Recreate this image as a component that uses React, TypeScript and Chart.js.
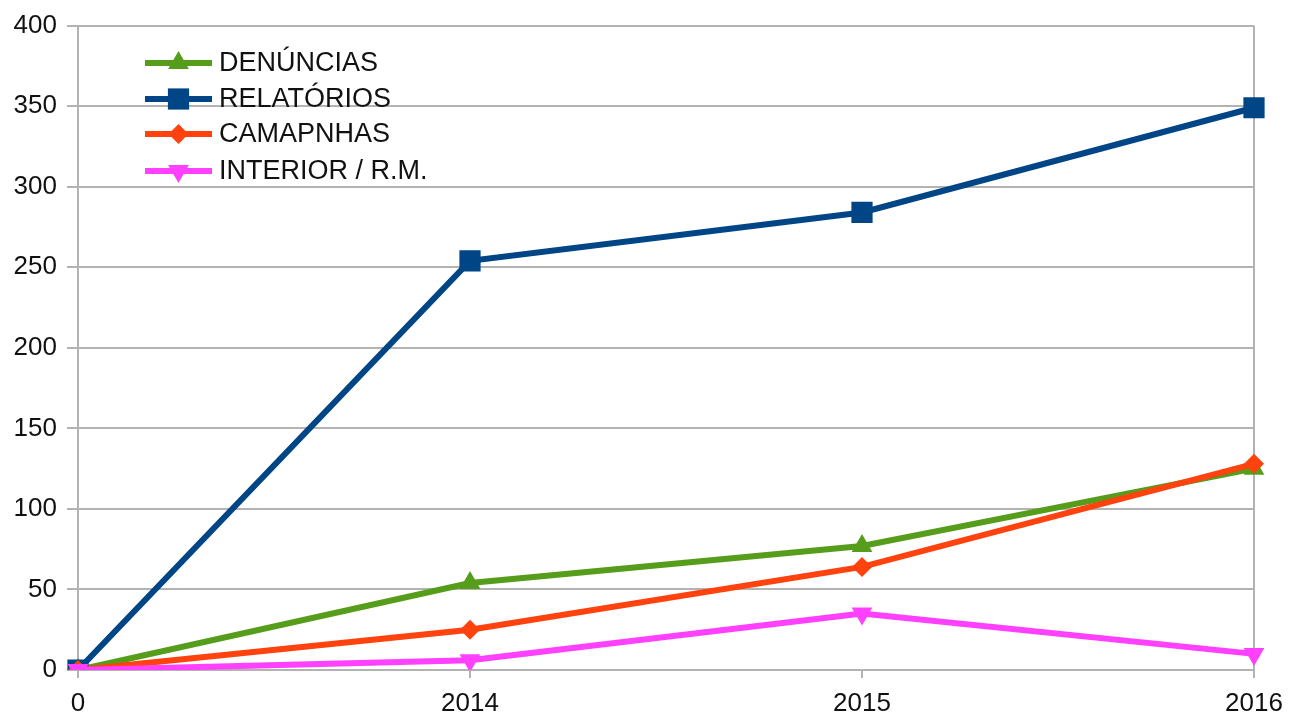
import React, { useEffect, useRef } from "react";
import { Chart, registerables } from "chart.js";

Chart.register(...registerables);

const categories = ["0", "2014", "2015", "2016"];
const denuncias = [0, 54, 77, 125];
const relatorios = [0, 254, 284, 349];
const campanhas = [0, 25, 64, 128];
const interior = [0, 6, 35, 10];
const yTicks = [0, 50, 100, 150, 200, 250, 300, 350, 400];

const FONT = "'Liberation Sans', Arial, sans-serif";
const TEXT = "#111111";
const GRID = "#b3b3b3";

function marker(ctx: CanvasRenderingContext2D, style: string, rot: number, r: number, x: number, y: number) {
  ctx.beginPath();
  if (style === "rect") {
    const s = r * Math.SQRT1_2;
    ctx.rect(x - s, y - s, 2 * s, 2 * s);
  } else if (style === "rectRot") {
    ctx.moveTo(x, y - r);
    ctx.lineTo(x + r, y);
    ctx.lineTo(x, y + r);
    ctx.lineTo(x - r, y);
    ctx.closePath();
  } else {
    const sgn = rot === 180 ? -1 : 1;
    const w = r * Math.sin(Math.PI / 3);
    ctx.moveTo(x, y - sgn * r);
    ctx.lineTo(x + w, y + sgn * r * 0.5);
    ctx.lineTo(x - w, y + sgn * r * 0.5);
    ctx.closePath();
  }
  ctx.fill();
}

const legendPlugin = {
  id: "insideLegend",
  afterDraw(chart: any) {
    const ctx = chart.ctx as CanvasRenderingContext2D;
    const x0 = 145;
    const x1 = 212;
    const ys = [63, 99, 134, 171];
    ctx.save();
    chart.data.datasets.forEach((ds: any, i: number) => {
      const y = ys[i];
      ctx.strokeStyle = ds.borderColor;
      ctx.lineWidth = 6;
      ctx.beginPath();
      ctx.moveTo(x0, y);
      ctx.lineTo(x1, y);
      ctx.stroke();
      ctx.fillStyle = ds.borderColor;
      marker(ctx, ds.pointStyle, ds.pointRotation || 0, ds.pointRadius, (x0 + x1) / 2, y);
      ctx.fillStyle = TEXT;
      ctx.font = `27px ${FONT}`;
      ctx.textBaseline = "middle";
      ctx.textAlign = "left";
      ctx.fillText(ds.label, 219, y + 1);
    });
    ctx.restore();
  },
};

export default function App() {
  const ref = useRef<HTMLCanvasElement>(null);
  useEffect(() => {
    document.body.style.margin = "0";
    const mk = (label: string, data: number[], color: string, style: string, radius: number, order: number, rot = 0) => ({
      label,
      data,
      borderColor: color,
      backgroundColor: color,
      pointBackgroundColor: color,
      pointBorderColor: color,
      pointBorderWidth: 0,
      borderWidth: 6,
      pointStyle: style,
      pointRadius: radius,
      pointRotation: rot,
      tension: 0,
      order,
    });
    const chart = new Chart(ref.current!, {
      type: "line",
      data: {
        labels: categories,
        datasets: [
          mk("DENÚNCIAS", denuncias, "#579d1c", "triangle", 12, 4),
          mk("RELATÓRIOS", relatorios, "#004586", "rect", 15, 3),
          mk("CAMAPNHAS", campanhas, "#ff420e", "rectRot", 10, 2),
          mk("INTERIOR / R.M.", interior, "#ff40ff", "triangle", 12, 1, 180),
        ] as any,
      },
      plugins: [legendPlugin],
      options: {
        animation: false,
        responsive: false,
        maintainAspectRatio: false,
        layout: { padding: { top: 25, right: 36, left: 0, bottom: 0 } },
        plugins: { legend: { display: false }, tooltip: { enabled: false } },
        scales: {
          x: {
            type: "category",
            offset: false,
            grid: {
              color: (c: any) => (c.index === 0 || c.index === categories.length - 1 ? GRID : "rgba(0,0,0,0)"),
              tickColor: GRID,
              tickLength: 8,
              lineWidth: 2,
            },
            border: { display: false },
            ticks: { color: TEXT, font: { family: FONT, size: 26 }, padding: 10, maxRotation: 0 },
            afterFit: (s: any) => { s.height = 51; s.paddingRight = 0; s.paddingLeft = 0; },
          },
          y: {
            min: 0,
            max: 400,
            afterBuildTicks: (s: any) => { s.ticks = yTicks.map((v) => ({ value: v })); },
            grid: { color: GRID, tickColor: GRID, tickLength: 11, lineWidth: 2 },
            border: { display: false },
            ticks: { color: TEXT, font: { family: FONT, size: 26 }, padding: 10 },
            afterFit: (s: any) => { s.width = 78; },
          },
        },
      } as any,
    });
    return () => chart.destroy();
  }, []);
  return (
    <div style={{ width: 1290, height: 721, background: "#fff" }}>
      <canvas ref={ref} width={1290} height={721} style={{ display: "block" }} />
    </div>
  );
}
